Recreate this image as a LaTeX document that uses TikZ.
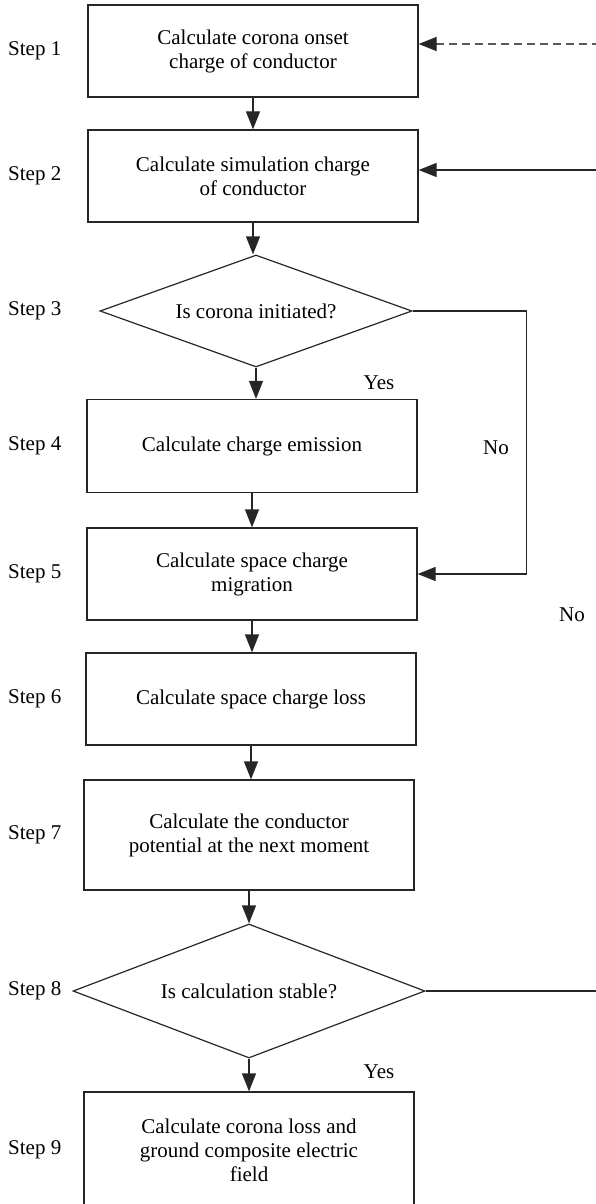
\documentclass[tikz,border=0pt]{standalone}
\usepackage{fontspec}
\setmainfont{Liberation Serif}
\usetikzlibrary{shapes.geometric, arrows.meta}

\begin{document}
\begin{tikzpicture}[x=1pt, y=-1pt, >={Triangle[width=14pt,length=18pt]},
    font=\fontsize{21}{24}\selectfont,
    stepbox/.style={draw=black!85, line width=1.2pt, minimum width=330pt,
      minimum height=92pt, align=center},
    decision/.style={diamond, draw=black!85, line width=1.2pt, inner sep=0pt, align=center},
    flow/.style={->, draw=black!85, line width=1.2pt},
    steplabel/.style={anchor=west, inner sep=0pt}]
        \useasboundingbox (0,0) rectangle (595,1204);
        \node[stepbox] (ONSET) at (253,51) {Calculate corona onset\\charge of conductor};
        \node[stepbox] (SIM) at (253,176) {Calculate simulation charge\\of conductor};
        \node[decision, minimum width=312pt, minimum height=112pt, aspect=2.8]
          (INIT) at (256,311) {Is corona initiated?};
        \node[stepbox, minimum height=93pt] (EMIT) at (252,446) {Calculate charge emission};
        \node[stepbox] (MIGR) at (252,574) {Calculate space charge\\migration};
        \node[stepbox] (LOSS) at (251,699) {Calculate space charge loss};
        \node[stepbox, minimum height=110pt]
          (POT) at (249,835) {Calculate the conductor\\potential at the next moment};
        \node[decision, minimum width=352pt, minimum height=134pt, aspect=2.6]
          (STAB) at (249,991) {Is calculation stable?};
        \node[stepbox, minimum height=116pt]
          (FIELD) at (249,1150) {Calculate corona loss and\\ground composite electric\\field};
        % Step numbers
        \node[steplabel] (S1) at (8,51) {Step 1};
        \node[steplabel] (S2) at (8,176) {Step 2};
        \node[steplabel] (S3) at (8,311) {Step 3};
        \node[steplabel] (S4) at (8,446) {Step 4};
        \node[steplabel] (S5) at (8,574) {Step 5};
        \node[steplabel] (S6) at (8,699) {Step 6};
        \node[steplabel] (S7) at (8,835) {Step 7};
        \node[steplabel] (S8) at (8,991) {Step 8};
        \node[steplabel] (S9) at (8,1150) {Step 9};
        % Main chain
        \draw[flow] (ONSET) -- (SIM);
        \draw[flow] (SIM.south) -- (SIM.south |- INIT.north);
        \draw[flow] (INIT.south) -- (INIT.south |- EMIT.north);
        \draw[flow] (EMIT) -- (MIGR);
        \draw[flow] (MIGR.south) -- (MIGR.south |- LOSS.north);
        \draw[flow] (LOSS.south) -- (LOSS.south |- POT.north);
        \draw[flow] (POT) -- (STAB);
        \draw[flow] (STAB) -- (FIELD);
        \node (YES1) at (379,383) {Yes};
        \node (YES2) at (379,1072) {Yes};
        % No branch of step 3
        \draw[flow] (INIT.east) -- ++(114,0) |- (MIGR.east);
        \node (NO1) at (496,448) {No};
        \node (NO2) at (572,615) {No};
        % Loops coming in from the right edge
        \coordinate (BACK1) at (600,44);
        \coordinate (BACK2) at (600,170);
        \coordinate (BACK8) at (600,991);
        \draw[flow, black!65, dash pattern=on 8pt off 5pt,
          -{Triangle[width=14pt,length=18pt,color=black!85]}]
          (BACK1) -- (ONSET.east |- BACK1);
        \draw[flow] (BACK2) -- (SIM.east |- BACK2);
        \draw[draw=black!85, line width=1.2pt] (STAB.east) -- (BACK8);
\end{tikzpicture}
\end{document}
